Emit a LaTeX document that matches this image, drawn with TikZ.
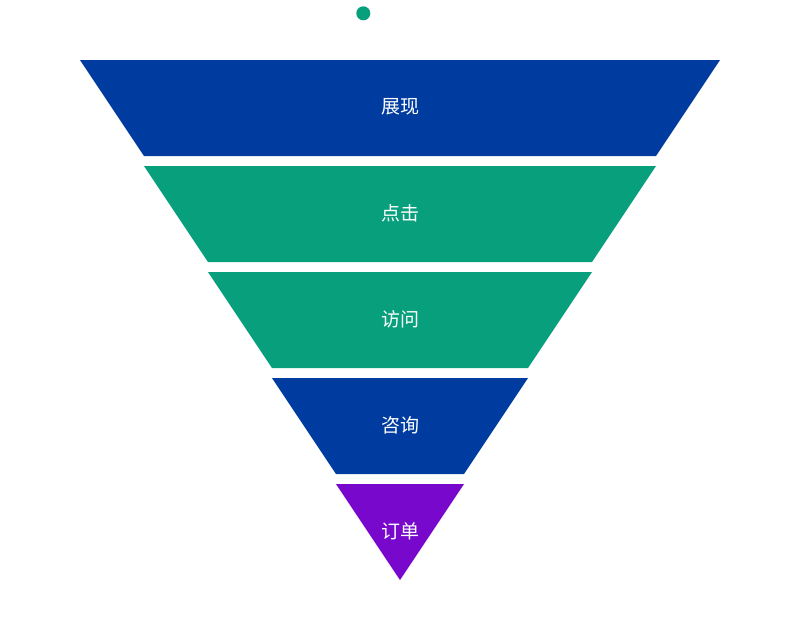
\documentclass[tikz,border=0pt]{standalone}
\usepackage{fontspec}
\newfontfamily\cjk{Noto Sans CJK SC}
\definecolor{fblue}{RGB}{0,60,160}
\definecolor{fgreen}{RGB}{8,160,124}
\definecolor{fpurple}{RGB}{119,8,204}
\begin{document}
\begin{tikzpicture}[x=1pt,y=-1pt,
  lbl/.style={text=white,font=\cjk\fontsize{19}{22}\selectfont,inner sep=0pt}]
\useasboundingbox (0,0) rectangle (800,640);
\fill[fgreen] (363.3,13.3) circle (7);
\fill[fblue] (80,60) -- (720,60) -- (656,156) -- (144,156) -- cycle;
\fill[fgreen] (144,166) -- (656,166) -- (592,262) -- (208,262) -- cycle;
\fill[fgreen] (208,272) -- (592,272) -- (528,368) -- (272,368) -- cycle;
\fill[fblue] (272,378) -- (528,378) -- (464,474) -- (336,474) -- cycle;
\fill[fpurple] (336,484) -- (464,484) -- (400,580) -- cycle;
\node[lbl] (n1) at (400,107) {展现};
\node[lbl] (n2) at (400,213) {点击};
\node[lbl] (n3) at (400,319) {访问};
\node[lbl] (n4) at (400,425) {咨询};
\node[lbl] (n5) at (400,531) {订单};
\end{tikzpicture}
\end{document}
